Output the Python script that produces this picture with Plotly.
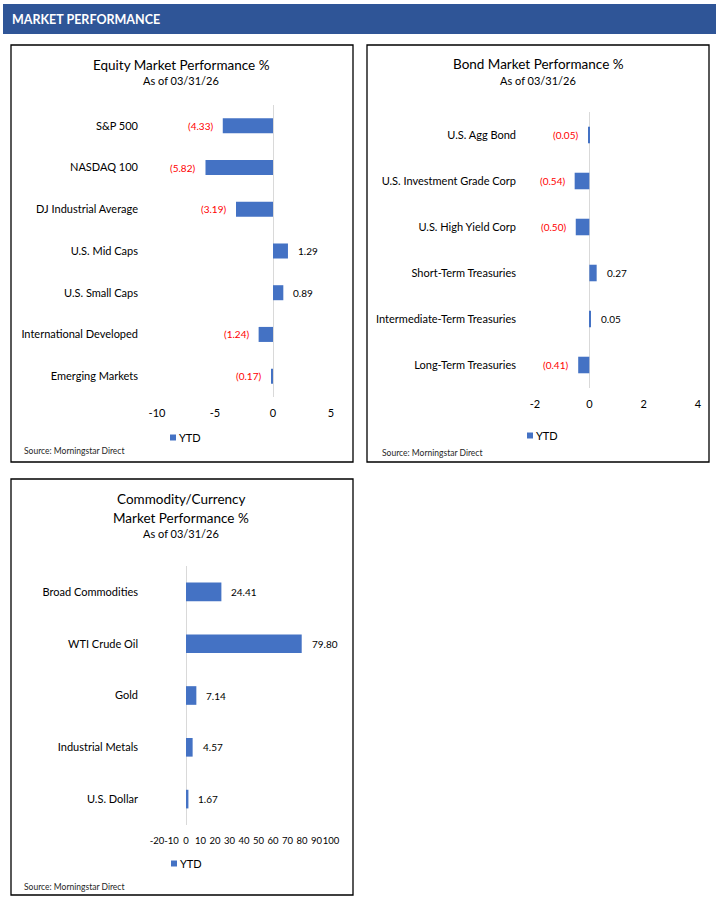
import plotly.graph_objects as go

W, H = 721, 899

# ---------------- data ----------------
eq_cats = ["S&P 500", "NASDAQ 100", "DJ Industrial Average", "U.S. Mid Caps",
           "U.S. Small Caps", "International Developed", "Emerging Markets"]
eq_vals = [-4.33, -5.82, -3.19, 1.29, 0.89, -1.24, -0.17]
eq_ticks = [-10, -5, 0, 5]

bond_cats = ["U.S. Agg Bond", "U.S. Investment Grade Corp", "U.S. High Yield Corp",
             "Short-Term Treasuries", "Intermediate-Term Treasuries", "Long-Term Treasuries"]
bond_vals = [-0.05, -0.54, -0.50, 0.27, 0.05, -0.41]
bond_ticks = [-2, 0, 2, 4]

com_cats = ["Broad Commodities", "WTI Crude Oil", "Gold", "Industrial Metals", "U.S. Dollar"]
com_vals = [24.41, 79.80, 7.14, 4.57, 1.67]
com_ticks = [-20, -10, 0, 10, 20, 30, 40, 50, 60, 70, 80, 90, 100]

series_name = "YTD"
as_of = "As of 03/31/26"
source = "Source: Morningstar Direct"

# ---------------- style ----------------
FONT = "Lato"
BAR = "#4472C4"
RED = "#FF0000"
TXT = "#000000"
GRID0 = "#D9D9D9"


def px(x):
    return x / W


def py(y):
    return 1 - y / H


def fmt(v):
    return f"({abs(v):.2f})" if v < 0 else f"{v:.2f}"


fig = go.Figure()
annotations = []
shapes = []

panels = [
    dict(cats=eq_cats, vals=eq_vals, ticks=eq_ticks, rng=[-10, 5], tfs=11,
         xd=(157, 331), yd=(105, 397), ax="", lx=170, ly=437),
    dict(cats=bond_cats, vals=bond_vals, ticks=bond_ticks, rng=[-2, 4], tfs=11,
         xd=(535, 698), yd=(112, 388), ax="2", lx=527, ly=435),
    dict(cats=com_cats, vals=com_vals, ticks=com_ticks, rng=[-20, 100], tfs=9.5,
         xd=(157, 331), yd=(566, 825), ax="3", lx=171, ly=863),
]

for p in panels:
    xa = "x" + p["ax"]
    ya = "y" + p["ax"]
    fig.add_trace(go.Bar(
        x=p["vals"], y=p["cats"], orientation="h", name=series_name,
        marker=dict(color=BAR, line=dict(width=0)), width=0.36,
        xaxis=xa, yaxis=ya, showlegend=False, hoverinfo="x+y",
    ))
    n = len(p["cats"])
    fig.layout["xaxis" + p["ax"]] = dict(
        domain=[px(p["xd"][0]), px(p["xd"][1])], range=p["rng"], anchor=ya,
        tickmode="array", tickvals=p["ticks"], ticktext=[str(t) for t in p["ticks"]],
        tickangle=0, showgrid=False, zeroline=True, zerolinecolor=GRID0,
        zerolinewidth=1, showline=False, ticks="", ticklabelstandoff=8,
        automargin=False,
        tickfont=dict(family=FONT, size=p["tfs"], color=TXT), fixedrange=True,
    )
    fig.layout["yaxis" + p["ax"]] = dict(
        domain=[py(p["yd"][1]), py(p["yd"][0])], anchor=xa, type="category",
        categoryorder="array", categoryarray=p["cats"], range=[n - 0.5, -0.5],
        showgrid=False, zeroline=False, showline=False, ticks="",
        ticklabelstandoff=18, automargin=False,
        tickfont=dict(family=FONT, size=11, color=TXT), fixedrange=True,
    )
    for c, v in zip(p["cats"], p["vals"]):
        annotations.append(dict(
            x=v, y=c, xref=xa, yref=ya, text=fmt(v), showarrow=False,
            xanchor="right" if v < 0 else "left", xshift=-8 if v < 0 else 8,
            font=dict(family=FONT, size=10, color=RED if v < 0 else TXT),
        ))
    # legend key: small square + series name
    shapes.append(dict(type="rect", xref="paper", yref="paper",
                       x0=px(p["lx"]), x1=px(p["lx"] + 6),
                       y0=py(p["ly"] + 3.5), y1=py(p["ly"] - 2.5),
                       fillcolor=BAR, line=dict(width=0)))
    annotations.append(dict(x=px(p["lx"] + 7), y=py(p["ly"]), xref="paper", yref="paper",
                            text=series_name, showarrow=False, xanchor="left",
                            yanchor="middle", font=dict(family=FONT, size=11, color=TXT)))

# titles
titles = [
    (181, 65, "Equity Market Performance %", 13.5),
    (181, 80, as_of, 11),
    (538, 64, "Bond Market Performance %", 13.5),
    (538, 80, as_of, 11),
    (181, 499, "Commodity/Currency", 13.5),
    (181, 518, "Market Performance %", 13.5),
    (181, 533, as_of, 11),
]
for x, y, t, s in titles:
    annotations.append(dict(x=px(x), y=py(y), xref="paper", yref="paper", text=t,
                            showarrow=False, xanchor="center", yanchor="middle",
                            font=dict(family=FONT, size=s, color=TXT)))

for x, y in [(22, 451), (380, 453), (22, 887)]:
    annotations.append(dict(x=px(x), y=py(y), xref="paper", yref="paper", text=source,
                            showarrow=False, xanchor="left", yanchor="middle",
                            font=dict(family=FONT, size=8.5, color="#262626")))

annotations.append(dict(x=px(10), y=py(19.5), xref="paper", yref="paper",
                        text="<b>MARKET PERFORMANCE</b>", showarrow=False,
                        xanchor="left", yanchor="middle",
                        font=dict(family=FONT, size=12.5, color="#FFFFFF")))

shapes.append(dict(type="rect", xref="paper", yref="paper", x0=px(3), x1=px(716),
                   y0=py(34), y1=py(4), fillcolor="#2F5597", line=dict(width=0),
                   layer="below"))
for x0, x1, y0, y1 in [(11, 353, 45, 462), (367, 709, 45, 462), (11, 353, 479, 895)]:
    shapes.append(dict(type="rect", xref="paper", yref="paper", x0=px(x0), x1=px(x1),
                       y0=py(y1), y1=py(y0), line=dict(color="#000000", width=1.3),
                       fillcolor="rgba(0,0,0,0)", layer="below"))

fig.update_layout(
    width=W, height=H, margin=dict(l=0, r=0, t=0, b=0, pad=0, autoexpand=False),
    paper_bgcolor="#FFFFFF", plot_bgcolor="rgba(0,0,0,0)",
    annotations=annotations, shapes=shapes, showlegend=False,
    font=dict(family=FONT, size=11, color=TXT),
)

fig.write_html("out.html", config={"displayModeBar": False},
               post_script="document.body.style.margin='0';")
